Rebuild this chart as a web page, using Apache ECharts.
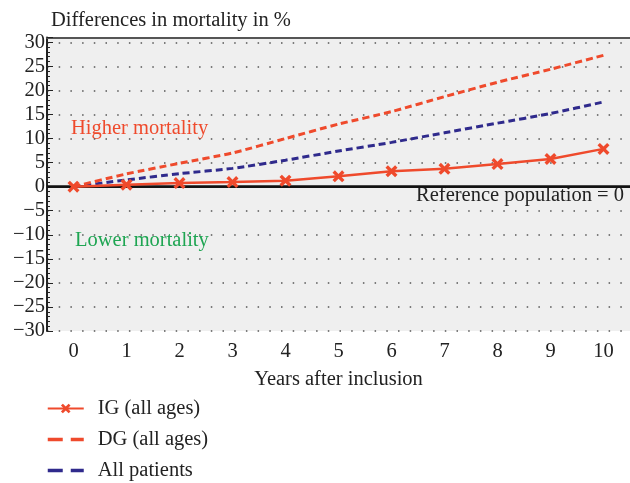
<!DOCTYPE html>
<html lang="en">
<head>
<meta charset="utf-8" />
<title>Differences in mortality</title>
<script src="https://cdn.jsdelivr.net/npm/echarts@6/dist/echarts.min.js"></script>
<style>
  html, body { margin: 0; padding: 0; background: #fff; }
  #chart { width: 630px; height: 483px; }
</style>
</head>
<body>
<div id="chart"></div>
<script>
// years after inclusion
var years = ['0', '1', '2', '3', '4', '5', '6', '7', '8', '9', '10'];
// differences in mortality (%) vs reference population
var igAll = [0, 0.4, 0.75, 0.95, 1.25, 2.15, 3.2, 3.7, 4.7, 5.75, 7.85];
var dgAll = [0, 2.65, 4.85, 7.0, 10.0, 13.0, 15.6, 18.7, 21.7, 24.4, 27.3];
var allPatients = [0, 1.4, 2.7, 3.8, 5.5, 7.4, 9.2, 11.2, 13.2, 15.2, 17.6];

var RED = '#ef4a2c';
var BLUE = '#2f2a8c';
var GREEN = '#1ea552';
var FONT = 'Liberation Serif';
var FS = 20.5;
var xMark = 'path://M0,2 L2,0 L5,3 L8,0 L10,2 L7,5 L10,8 L8,10 L5,7 L2,10 L0,8 L3,5 Z';

var chart = echarts.init(document.getElementById('chart'));

var option = {
    animation: false,
    textStyle: { fontFamily: FONT },
    title: {
        text: 'Differences in mortality in %',
        left: 46,
        top: 5,
        textStyle: { fontFamily: FONT, fontSize: FS, fontWeight: 'normal', color: '#222' }
    },
    grid: {
        left: 47,
        right: -4,
        top: 37.5,
        bottom: 152,
        show: true,
        backgroundColor: '#efefef',
        borderWidth: 0
    },
    legend: {
        orient: 'vertical',
        left: 46,
        top: 398,
        height: 90,
        padding: 0,
        itemWidth: 36,
        itemHeight: 12,
        itemGap: 10,
        textStyle: { fontFamily: FONT, fontSize: FS, color: '#222', padding: [0, 0, 0, 9] },
        data: [
            { name: 'IG (all ages)' },
            { name: 'DG (all ages)', itemStyle: { opacity: 0 }, lineStyle: { color: RED, width: 3.5, type: [15, 8] } },
            { name: 'All patients', itemStyle: { opacity: 0 }, lineStyle: { color: BLUE, width: 3.5, type: [15, 8] } }
        ]
    },
    xAxis: [{
        type: 'category',
        data: years,
        boundaryGap: true,
        name: 'Years after inclusion',
        nameLocation: 'middle',
        nameGap: 38,
        nameTextStyle: { fontFamily: FONT, fontSize: FS, color: '#222' },
        axisLine: { lineStyle: { color: '#222', width: 2 } },
        axisTick: { alignWithLabel: true, inside: true, length: 6, lineStyle: { color: '#222', width: 1.5 } },
        axisLabel: { fontFamily: FONT, fontSize: FS, color: '#222', margin: 10 },
        splitLine: { show: false }
    }, {
        type: 'category',
        data: years,
        position: 'top',
        axisLine: { lineStyle: { color: '#555', width: 2 } },
        axisTick: { show: false },
        axisLabel: { show: false },
        splitLine: { show: false }
    }],
    yAxis: {
        type: 'value',
        min: -30,
        max: 31,
        interval: 5,
        axisLine: { show: true, lineStyle: { color: '#222', width: 2 } },
        axisTick: { show: true, inside: true, length: 6, lineStyle: { color: '#222' } },
        minorTick: { show: true, splitNumber: 5, length: 3, lineStyle: { color: '#222' } },
        axisLabel: {
            fontFamily: FONT, fontSize: FS, color: '#222', margin: 2,
            formatter: function (v) {
                if (v % 5 !== 0) return '';
                return String(v).replace('-', '\u2212');
            }
        },
        splitLine: { show: true, lineStyle: { color: '#555', width: 1.5, type: [1.5, 10.2] } }
    },
    series: [{
        name: 'All patients',
        type: 'line',
        data: allPatients,
        symbol: 'none',
        smooth: 0.2,
        z: 3,
        itemStyle: { color: BLUE },
        lineStyle: { color: BLUE, width: 3, type: [7, 4] }
    }, {
        name: 'DG (all ages)',
        type: 'line',
        data: dgAll,
        symbol: 'none',
        smooth: 0.2,
        z: 3,
        itemStyle: { color: RED },
        lineStyle: { color: RED, width: 3, type: [7, 4] }
    }, {
        name: 'IG (all ages)',
        type: 'line',
        data: igAll,
        symbol: xMark,
        symbolSize: 12,
        z: 4,
        itemStyle: { color: RED },
        lineStyle: { color: RED, width: 2.5 },
        markLine: {
            silent: true,
            symbol: 'none',
            label: { show: false },
            lineStyle: { color: '#111', width: 2.5, type: 'solid' },
            data: [{ yAxis: 0 }],
            z: 2
        }
    }],
    graphic: [{
        type: 'text', left: 71, top: 118,
        style: { text: 'Higher mortality', fontFamily: FONT, fontSize: FS, fill: RED }
    }, {
        type: 'text', left: 75, top: 230,
        style: { text: 'Lower mortality', fontFamily: FONT, fontSize: FS, fill: GREEN }
    }, {
        type: 'text', right: 6, top: 185,
        style: { text: 'Reference population = 0', fontFamily: FONT, fontSize: FS, fill: '#222' }
    }]
};

chart.setOption(option);
</script>
</body>
</html>
